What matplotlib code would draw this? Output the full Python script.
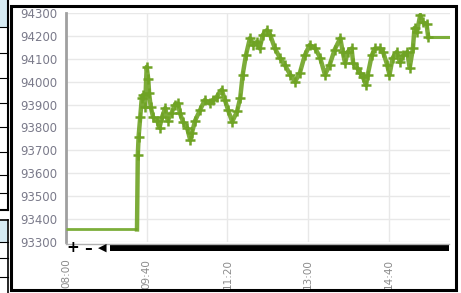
import matplotlib
matplotlib.use("Agg")
from matplotlib import pyplot as plt
from matplotlib.patches import Rectangle
from matplotlib.lines import Line2D

# prices (time of day, price)
times = ["08:00", "09:28", "09:29", "09:30", "09:32", "09:34", "09:35", "09:38",
         "09:40", "09:42", "09:43", "09:45", "09:48", "09:53", "09:56", "09:59",
         "10:03", "10:06", "10:11", "10:15", "10:19", "10:21", "10:25", "10:30",
         "10:34", "10:36", "10:40", "10:46", "10:52", "10:58", "11:02", "11:07",
         "11:13", "11:17", "11:21", "11:26", "11:32", "11:36", "11:39", "11:43",
         "11:48", "11:52", "11:57", "12:00", "12:04", "12:09", "12:13", "12:19",
         "12:25", "12:31", "12:38", "12:44", "12:50", "12:56", "13:02", "13:09",
         "13:15", "13:21", "13:27", "13:33", "13:40", "13:43", "13:46", "13:49",
         "13:54", "13:56", "14:01", "14:04", "14:08", "14:12", "14:14", "14:19",
         "14:23", "14:29", "14:33", "14:38", "14:41", "14:45", "14:50", "14:54",
         "14:58", "15:03", "15:06", "15:10", "15:12", "15:15", "15:19", "15:22",
         "15:27", "15:29", "15:56"]
prices = [93355, 93355, 93680, 93760, 93845, 93930, 93940, 93890,
          94065, 94010, 93950, 93890, 93845, 93830, 93800, 93845,
          93885, 93830, 93865, 93900, 93905, 93865, 93825, 93800,
          93745, 93775, 93830, 93875, 93920, 93905, 93920, 93935,
          93965, 93920, 93875, 93825, 93870, 93930, 94030, 94115,
          94190, 94160, 94175, 94145, 94205, 94225, 94205, 94145,
          94105, 94075, 94030, 94000, 94040, 94115, 94160, 94145,
          94105, 94030, 94075, 94140, 94190, 94130, 94080, 94130,
          94145, 94080, 94060, 94040, 94020, 93985, 94030, 94115,
          94145, 94145, 94130, 94075, 94030, 94105, 94130, 94085,
          94115, 94130, 94060, 94145, 94235, 94215, 94290, 94260,
          94250, 94195, 94195]

x_ticks = ["08:00", "09:40", "11:20", "13:00", "14:40"]
y_ticks = [93300, 93400, 93500, 93600, 93700, 93800, 93900, 94000, 94100, 94200, 94300]
x_end = "15:56"

GREEN = "#6fa324"
W, H = 461, 293


def minutes(t):
    h, m = t.split(":")
    return (int(h) - 8) * 60 + int(m)


def fx(px):
    return px / W


def fy(py):
    return 1 - py / H


fig = plt.figure(figsize=(W / 100, H / 100), dpi=100)
ax = fig.add_axes([fx(66), fy(242), fx(450) - fx(66), fy(13) - fy(242)])

xs = [minutes(t) for t in times]
# plain flat parts, then the traded stretch drawn thick with markers
ax.plot(xs[:2], prices[:2], color="#7cae3a", lw=2, zorder=3, solid_capstyle="butt")
ax.plot(xs[-2:], prices[-2:], color="#7cae3a", lw=2.2, zorder=3, solid_capstyle="butt")
ax.plot(xs[1:-1], prices[1:-1], color=GREEN, lw=3.2, alpha=0.9, zorder=3,
        solid_joinstyle="round")
ax.plot(xs[2:-1], prices[2:-1], ls="none", color=GREEN, marker="+", ms=6.5,
        mew=1.8, zorder=4)

ax.set_xlim(0, minutes(x_end))
ax.set_ylim(93300, 94300)
ax.set_yticks(y_ticks)
ax.set_xticks([minutes(t) for t in x_ticks])
ax.set_xticklabels(x_ticks, rotation=90)
ax.grid(True, color="#e8e8e8", lw=1)
ax.set_axisbelow(True)
for s in ["top", "right", "bottom"]:
    ax.spines[s].set_visible(False)
ax.spines["left"].set_color("#a0a0a0")
ax.spines["left"].set_linewidth(2)
ax.tick_params(axis="y", length=0, pad=6, labelsize=8.5, labelcolor="#7a7a8a")
ax.tick_params(axis="x", length=0, pad=12, labelsize=7.5, labelcolor="#8a8a8a")

# navigator strip below the plot
fig.add_artist(Line2D([fx(66), fx(449)], [fy(243.5), fy(243.5)], color="#b0b0b0", lw=1))
fig.add_artist(Rectangle((fx(110), fy(250.5)), fx(449) - fx(110), fy(245) - fy(250.5),
                         color="black", lw=0))
for px, s, sz in [(73, "+", 11), (88, "\u2013", 11), (102, "\u25c0", 8)]:
    fig.text(fx(px), fy(248), s, ha="center", va="center", fontsize=sz,
             fontweight="bold", color="black")

# black frame around the chart
fig.add_artist(Rectangle((fx(11), fy(290)), fx(456) - fx(11), fy(6) - fy(290),
                         fill=False, ec="black", lw=2.2))

# table fragments at the left edge
fig.add_artist(Rectangle((0, fy(27)), fx(7), fy(0) - fy(27), color="#d6eaf2", lw=0))
fig.add_artist(Rectangle((0, fy(242)), fx(7), fy(221) - fy(242), color="#d6eaf2", lw=0))
fig.add_artist(Line2D([fx(7.5), fx(7.5)], [fy(0), fy(210)], color="black", lw=1.5))
fig.add_artist(Line2D([0, fx(7.5)], [fy(210), fy(210)], color="black", lw=1.5))
fig.add_artist(Line2D([fx(7.5), fx(7.5)], [fy(220), fy(293)], color="black", lw=1.2))
fig.add_artist(Line2D([0, fx(7.5)], [fy(220), fy(220)], color="black", lw=1.2))
for py in [27, 53, 78, 103, 127, 152, 175, 193, 242, 258, 277]:
    fig.add_artist(Line2D([0, fx(7.5)], [fy(py), fy(py)], color="black", lw=0.8))

plt.savefig("out.png", dpi=100)
